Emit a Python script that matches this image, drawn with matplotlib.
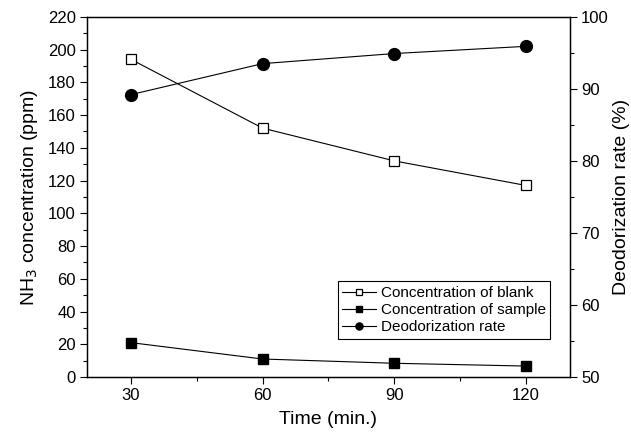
import matplotlib
matplotlib.use("Agg")
import matplotlib.pyplot as plt
from matplotlib.ticker import MultipleLocator

plt.rcParams['font.family'] = ['Liberation Sans', 'DejaVu Sans']

# data
time = [30, 60, 90, 120]
blank = [194, 152, 132, 117]
sample = [21, 11, 8.4, 6.7]
deodor = [89.2, 93.5, 94.9, 95.9]


def main():
    fig = plt.figure(figsize=(6.31, 4.42), dpi=100)
    ax1 = fig.add_axes([0.138, 0.147, 0.765, 0.815])
    ax2 = ax1.twinx()

    l1, = ax1.plot(time, blank, color='k', lw=0.8, marker='s', ms=7.5,
                   mfc='white', mec='k', mew=0.9, label='Concentration of blank')
    l2, = ax1.plot(time, sample, color='k', lw=0.8, marker='s', ms=7.5,
                   mfc='k', mec='k', label='Concentration of sample')
    l3, = ax2.plot(time, deodor, color='k', lw=0.8, marker='o', ms=8.5,
                   mfc='k', mec='k', label='Deodorization rate')

    ax1.set_xlim(20, 130)
    ax1.set_ylim(0, 220)
    ax2.set_ylim(50, 100)

    ax1.set_xticks([30, 60, 90, 120])
    ax1.xaxis.set_minor_locator(MultipleLocator(15))
    ax1.yaxis.set_major_locator(MultipleLocator(20))
    ax1.yaxis.set_minor_locator(MultipleLocator(10))
    ax2.yaxis.set_major_locator(MultipleLocator(10))
    ax2.yaxis.set_minor_locator(MultipleLocator(5))

    for ax in (ax1, ax2):
        ax.tick_params(which='major', direction='out', length=5, width=0.8,
                       labelsize=12, pad=3)
        ax.tick_params(which='minor', direction='out', length=3, width=0.8)
        for s in ax.spines.values():
            s.set_linewidth(0.9)

    ax1.set_xlabel('Time (min.)', fontsize=14, labelpad=6)
    ax1.set_ylabel('NH$_3$ concentration (ppm)', fontsize=14, labelpad=6)
    ax2.set_ylabel('Deodorization rate (%)', fontsize=14, labelpad=3)

    leg = ax1.legend(handles=[l1, l2, l3], loc='lower right',
                     bbox_to_anchor=(0.975, 0.085), fontsize=11,
                     markerscale=0.6, handlelength=2.2, handletextpad=0.3,
                     borderpad=0.3, labelspacing=0.2, fancybox=False,
                     framealpha=1, edgecolor='k')
    leg.get_frame().set_linewidth(0.8)

    fig.savefig('out.png', dpi=100)


if __name__ == "__main__":
    main()
